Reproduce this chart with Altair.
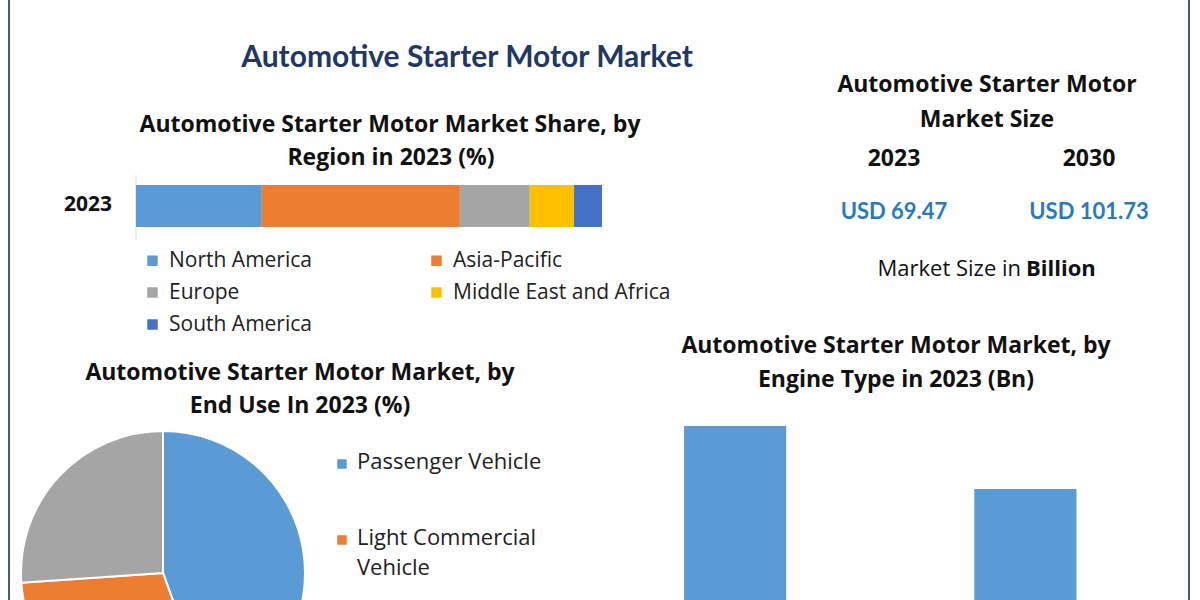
import altair as alt
import pandas as pd

# Regional share of the market in 2023 (%)
regions = ["North America", "Asia-Pacific", "Europe", "Middle East and Africa", "South America"]
region_share = [27.0, 42.5, 15.0, 9.5, 6.0]
region_colors = ["#5b9bd5", "#ed7d31", "#a5a5a5", "#ffc000", "#4472c4"]

# Market split by end use in 2023 (%)
end_uses = ["Passenger Vehicle", "Light Commercial Vehicle", "Heavy Commercial Vehicle"]
end_use_share = [44.5, 29.4, 26.1]
end_use_colors = ["#5b9bd5", "#ed7d31", "#a5a5a5"]

# Market by engine type in 2023 (USD Bn)
engine_types = ["Gasoline", "Diesel"]
engine_value = [40.42, 29.05]

# Headline market size (USD Bn)
size_years = ["2023", "2030"]
size_values = [69.47, 101.73]

HEAD = "Open Sans"
BODY = "Lato"
ONE = alt.Data(values=[{}])


def label(text, x, y, size=23, weight="bold", color="#111111", font=HEAD, align="center"):
    return alt.Chart(alt.Data(values=[{"t": text}])).mark_text(
        font=font, fontSize=size, fontWeight=weight, color=color,
        align=align, baseline="middle",
    ).encode(text="t:N", x=alt.value(x), y=alt.value(y))


# page frame
frame = [
    alt.Chart(ONE).mark_rule(color="#4d5e6b", strokeWidth=2).encode(
        x=alt.value(x), y=alt.value(0), y2=alt.value(600))
    for x in (9, 1189)
]

titles = [
    label("Automotive Starter Motor Market", 467, 58, size=30, color="#1f3864", font=BODY),
    label("Automotive Starter Motor Market Share, by", 390, 125),
    label("Region in 2023 (%)", 391, 158),
    label("Automotive Starter Motor", 987, 85),
    label("Market Size", 987, 120),
    label("Automotive Starter Motor Market, by", 300, 373),
    label("End Use In 2023 (%)", 300, 406),
    label("Automotive Starter Motor Market, by", 896, 346),
    label("Engine Type in 2023 (Bn)", 896, 380),
    label("Market Size in", 1021, 269, size=22, weight="normal", align="right"),
    label("Billion", 1026, 269, size=22, align="left"),
]

# market size figures
size_df = pd.DataFrame({"year": size_years, "value": size_values})
size_x = alt.Scale(domain=size_years, range=[894, 1089], type="point", padding=0)
size_years_text = alt.Chart(size_df).mark_text(
    font=HEAD, fontSize=23, fontWeight="bold", color="#111111", baseline="middle"
).encode(x=alt.X("year:N", scale=size_x, axis=None), y=alt.value(159), text="year:N")
size_values_text = alt.Chart(size_df).transform_calculate(
    lbl="'USD ' + format(datum.value, '.2f')"
).mark_text(
    font=BODY, fontSize=22, fontWeight="bold", color="#2b7bba", baseline="middle"
).encode(x=alt.X("year:N", scale=size_x, axis=None), y=alt.value(212), text="lbl:N")

# stacked regional bar
region_df = pd.DataFrame({"region": regions, "share": region_share,
                          "idx": range(len(regions)), "year": "2023"})
region_bar = alt.Chart(region_df).mark_bar().encode(
    x=alt.X("share:Q", stack="zero",
            scale=alt.Scale(domain=[0, 100], range=[136, 602]), axis=None),
    y=alt.Y("year:N", scale=alt.Scale(range=[185, 227], paddingInner=0, paddingOuter=0),
            axis=None),
    color=alt.Color("region:N", scale=alt.Scale(domain=regions, range=region_colors),
                    legend=alt.Legend(
                        title=None, orient="none", legendX=142, legendY=250, columns=2,
                        direction="horizontal",
                        symbolType="square", symbolSize=110, symbolStrokeWidth=0,
                        labelFont=HEAD, labelFontSize=21, labelColor="#222222",
                        labelOffset=6, labelLimit=400, columnPadding=114, rowPadding=10)),
    order=alt.Order("idx:Q"),
)
region_axis = alt.Chart(ONE).mark_rule(color="#d9d9d9", strokeWidth=1).encode(
    x=alt.value(136), y=alt.value(175), y2=alt.value(240))
region_year = label("2023", 88, 205, size=21)

# end-use pie
end_use_df = pd.DataFrame({"end_use": end_uses, "share": end_use_share,
                           "idx": range(len(end_uses))})
pie = alt.Chart(end_use_df).mark_arc(radius=142, stroke="white", strokeWidth=2).encode(
    theta=alt.Theta("share:Q", stack=True),
    color=alt.Color("end_use:N", scale=alt.Scale(domain=end_uses, range=end_use_colors),
                    legend=None),
    order=alt.Order("idx:Q"),
    x=alt.value(163), y=alt.value(573),
)
# key for the pie; the last entry would sit below the page, so only the first two are listed
pie_y = alt.Scale(domain=end_uses, range=[464, 616], type="point", padding=0)
pie_key_rows = alt.Chart(end_use_df).transform_filter("datum.idx < 2")
pie_keys = pie_key_rows.mark_square(size=90, opacity=1).encode(
    x=alt.value(342),
    y=alt.Y("end_use:N", scale=pie_y, axis=None),
    color=alt.Color("end_use:N", scale=alt.Scale(domain=end_uses, range=end_use_colors),
                    legend=None),
)
pie_labels = pie_key_rows.transform_calculate(
    lbl="datum.end_use == 'Passenger Vehicle' ? datum.end_use"
        " : replace(datum.end_use, ' Vehicle', '\\nVehicle')"
).mark_text(
    font=HEAD, fontSize=22, color="#222222", align="left", baseline="top",
    dy=-12, lineBreak="\n", lineHeight=30,
).encode(
    x=alt.value(357),
    y=alt.Y("end_use:N", scale=pie_y, axis=None),
    text="lbl:N",
)

# engine-type bars
engine_df = pd.DataFrame({"engine": engine_types, "value": engine_value})
engine_bars = alt.Chart(engine_df).mark_bar(color="#5b9bd5").encode(
    x=alt.X("engine:N", sort=engine_types,
            scale=alt.Scale(domain=engine_types, range=[590, 1170.5],
                            paddingInner=0.648, paddingOuter=0.324), axis=None),
    y=alt.Y("value:Q", scale=alt.Scale(domain=[0, 50], range=[650, 373]), axis=None),
)

chart = alt.layer(
    *frame, *titles, size_years_text, size_values_text,
    region_axis, region_bar, region_year,
    pie, pie_keys, pie_labels, engine_bars,
).resolve_scale(
    x="independent", y="independent", color="independent", theta="independent"
).properties(
    width=1200, height=600, padding=0,
    autosize=alt.AutoSizeParams(type="none"),
    background="white",
).configure_view(strokeWidth=0)

chart.save("out.html", embed_options={"renderer": "svg", "actions": False})
